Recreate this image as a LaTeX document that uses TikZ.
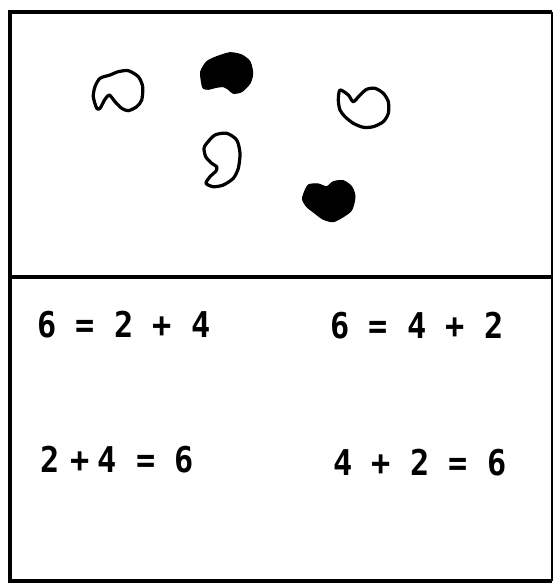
\documentclass[tikz,border=0pt]{standalone}
\usepackage{fontspec}
\newfontfamily\eqfont[FakeStretch=0.9,UprightFont=* Bold]{DejaVu Sans Mono}
\begin{document}
\begin{tikzpicture}[x=1pt,y=-1pt,
  frameline/.style={line width=3.5pt,black},
  openblob/.style={draw=black,line width=3.2pt,line join=round},
  fullblob/.style={fill=black,draw=black,line width=1pt,line join=round},
  eqtext/.style={anchor=base west,inner sep=0pt,font=\eqfont\fontsize{35.5}{40}\selectfont}]
\useasboundingbox (0,0) rectangle (554,585);
% frame
\coordinate (tl) at (10,12);
\coordinate (tr) at (552,12);
\coordinate (bl) at (10,581);
\coordinate (br) at (552,581);
\coordinate (ml) at (10,277);
\coordinate (mr) at (552,277);
\draw[frameline] (tr) -- (tl) -- (bl) -- (br);
\draw[line width=2pt] (tr) -- (br);
\draw[frameline] (ml) -- (mr);
% blobs
\draw[openblob] plot[smooth cycle,tension=0.45] coordinates {
 (96.7,108.3) (93.3,96.7) (95,86.7) (100,78.3) (110,75) (118.3,71.7)
 (128.3,70.7) (138.3,76.7) (142.7,86.7) (141.7,100) (136.7,106.7)
 (128.3,110.7) (121.7,108.3) (115,101.7) (109.3,95) (105,99.3) (100,108.3)};
\draw[fullblob] plot[smooth cycle,tension=0.45] coordinates {
 (201.7,83.3) (200.7,71.7) (206.7,61.7) (216.7,56.7) (230,52.7) (241.7,55)
 (250,61.7) (252.7,73.3) (250,83.3) (241.7,91.7) (233.3,93.3) (228.3,89.3)
 (223.3,86.7) (216.7,87.3) (208.3,89.3) (203.3,88.3)};
\draw[openblob] plot[smooth cycle,tension=0.45] coordinates {
 (206.7,143.3) (215,135) (226.7,133.3) (236.7,140) (240,153.3) (238.3,168.3)
 (233.3,178.3) (223.3,185) (213.3,186.7) (206,183.3) (210,176.7) (216,171)
 (216.7,166.7) (211.7,163.3) (205.7,156.7) (204,148.3)};
\draw[openblob] plot[smooth cycle,tension=0.45] coordinates {
 (340,90) (348.3,95) (353.3,101.7) (360,95) (366.7,89.3) (375,88.3)
 (383.3,93.3) (388.3,101.7) (388.3,113.3) (383.3,121.7) (373.3,126.7)
 (363.3,127.3) (353.3,123.3) (345,116.7) (340,110) (338.3,100)};
\draw[fullblob] plot[smooth cycle,tension=0.45] coordinates {
 (303.3,195) (308.3,185) (318.3,184) (326.7,186.7) (333.3,181.7) (343.3,180.7)
 (351.7,186.7) (355,196.7) (351.7,210) (343.3,216.7) (333.3,221.7)
 (323.3,219.3) (315,213.3) (306.7,206.7) (302.7,200)};
% equations
\node[eqtext] (e1) at (37,337.5) {6 = 2 + 4};
\node[eqtext] (e2) at (330,338) {6 = 4 + 2};
\node[eqtext] (e3) at (40,472.5) {2 \kern-8pt+\kern8pt4 = 6};
\node[eqtext] (e4) at (333,475) {4 + 2 = 6};
\end{tikzpicture}
\end{document}
